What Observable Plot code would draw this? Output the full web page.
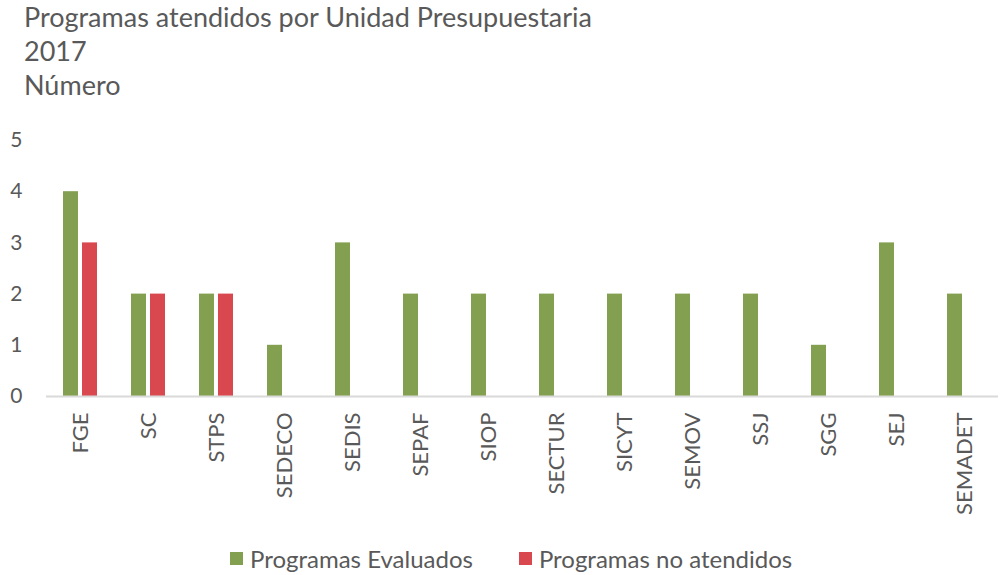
<!DOCTYPE html>
<html>
<head>
<meta charset="utf-8">
<script src="https://cdn.jsdelivr.net/npm/d3@7"></script>
<script src="https://cdn.jsdelivr.net/npm/@observablehq/plot@0.6"></script>
<style>
  body { margin: 0; background: #fff; font-family: Lato, "Open Sans", sans-serif; color: #595959; }
  #wrap { position: relative; width: 1001px; height: 575px; overflow: hidden; }
  #title { position: absolute; left: 24px; top: 0; font-size: 27px; line-height: 34px; }
  #chart { position: absolute; left: 0; top: 102px; }
  #legend { position: absolute; left: 230px; top: 544px; display: flex; align-items: center; font-size: 24px; }
  .sw { display: inline-block; width: 13px; height: 13px; margin-right: 7px; }
  .item { display: flex; align-items: center; margin-right: 46px; }
</style>
</head>
<body>
<div id="wrap">
  <div id="title">Programas atendidos por Unidad Presupuestaria<br>2017<br>Número</div>
  <div id="chart"></div>
  <div id="legend"></div>
</div>
<script>
const categories = ["FGE", "SC", "STPS", "SEDECO", "SEDIS", "SEPAF", "SIOP", "SECTUR", "SICYT", "SEMOV", "SSJ", "SGG", "SEJ", "SEMADET"];
const evaluados = [4, 2, 2, 1, 3, 2, 2, 2, 2, 2, 2, 1, 3, 2];
const noAtendidos = [3, 2, 2, 0, 0, 0, 0, 0, 0, 0, 0, 0, 0, 0];
const seriesNames = ["Programas Evaluados", "Programas no atendidos"];
const seriesColors = ["#82a04f", "#d9484e"];
const yTicks = [0, 1, 2, 3, 4, 5];

const data = [];
categories.forEach((c, i) => {
  data.push({cat: c, series: seriesNames[0], value: evaluados[i]});
  data.push({cat: c, series: seriesNames[1], value: noAtendidos[i]});
});

const chart = Plot.plot({
  width: 1001,
  height: 430,
  marginTop: 38,
  marginBottom: 136,
  marginLeft: 43,
  marginRight: 0,
  style: {fontFamily: "Lato, 'Open Sans', sans-serif", color: "#595959", background: "transparent"},
  fx: {domain: categories, padding: 0, label: null},
  x: {domain: seriesNames, paddingInner: 0.2, paddingOuter: 0.86, axis: null},
  y: {domain: [0, 5], ticks: yTicks, label: null},
  color: {domain: seriesNames, range: seriesColors},
  marks: [
    Plot.axisY({ticks: yTicks, tickFormat: "d", tickSize: 0, tickPadding: 24, fontSize: 21, label: null, fill: "#595959"}),
    Plot.axisFx({anchor: "bottom", tickSize: 0, tickPadding: 16, tickRotate: -90, fontSize: 22, label: null, fill: "#595959"}),
    Plot.barY(data, {fx: "cat", x: "series", y: "value", fill: "series"}),
    Plot.ruleY([0], {stroke: "#d9d9d9", strokeWidth: 2})
  ]
});
document.getElementById("chart").appendChild(chart);

const legend = document.getElementById("legend");
seriesNames.forEach((s, i) => {
  const item = document.createElement("div");
  item.className = "item";
  const sw = document.createElement("span");
  sw.className = "sw";
  sw.style.background = seriesColors[i];
  item.appendChild(sw);
  item.appendChild(document.createTextNode(s));
  legend.appendChild(item);
});
</script>
</body>
</html>
